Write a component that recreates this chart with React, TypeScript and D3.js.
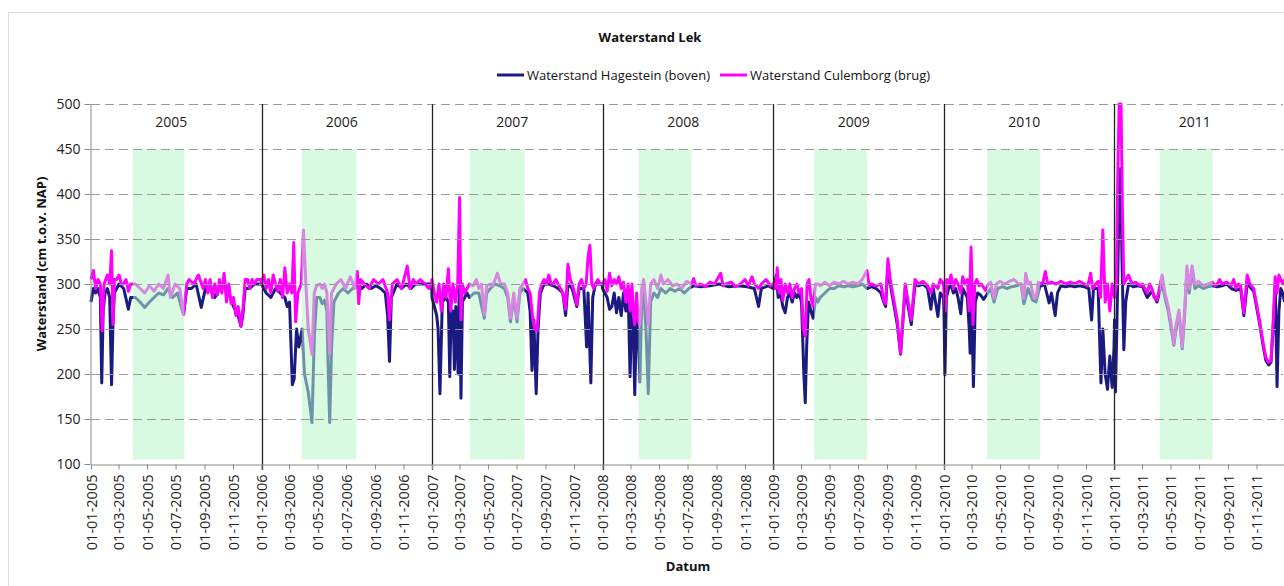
import React, { useEffect, useRef } from "react";
import * as d3 from "d3";

type Pt = [number, number]; // [day of year, cm t.o.v. NAP]

// Waterstand Hagestein (boven)
const hag2005: Pt[] = [[0,280],[5,295],[10,290],[15,295],[20,285],[23,190],[26,270],[30,290],[35,295],[40,285],[44,188],[47,255],[50,290],[60,300],[70,295],[80,272],[85,285],[95,285],[105,280],[115,274],[125,280],[135,285],[145,290],[155,288],[165,295],[175,285],[185,290],[198,266],[205,295],[215,295],[225,300],[236,274],[245,295],[255,295],[265,285],[275,295],[285,300],[295,290],[305,275],[315,265],[321,253],[325,265],[330,295],[340,295],[350,300],[364,300]];
const hag2006: Pt[] = [[0,300],[10,290],[20,285],[30,295],[40,290],[50,285],[55,275],[60,280],[66,188],[70,195],[75,250],[80,230],[87,250],[92,200],[100,180],[108,146],[113,240],[118,285],[125,285],[130,278],[135,282],[140,270],[143,200],[146,146],[150,230],[155,280],[165,290],[175,295],[185,290],[195,295],[205,300],[215,295],[225,300],[235,295],[245,298],[255,295],[265,290],[270,265],[274,214],[278,285],[290,300],[300,295],[310,300],[320,295],[330,300],[340,300],[350,300],[364,300]];
const hag2007: Pt[] = [[0,285],[5,275],[10,265],[13,250],[17,178],[22,280],[30,285],[35,280],[38,197],[41,270],[45,270],[48,205],[51,275],[56,200],[59,330],[62,173],[65,280],[70,285],[75,290],[80,285],[90,290],[100,290],[112,262],[117,290],[125,295],[135,300],[145,298],[155,295],[162,285],[168,258],[175,285],[182,258],[188,290],[195,295],[205,290],[210,270],[214,204],[218,260],[223,178],[227,250],[232,290],[240,300],[250,300],[260,298],[270,295],[280,290],[286,265],[291,300],[300,295],[310,275],[315,295],[325,295],[331,230],[334,290],[340,190],[344,285],[350,300],[364,300]];
const hag2008: Pt[] = [[0,295],[5,290],[10,285],[15,272],[20,275],[25,290],[30,268],[35,285],[40,265],[45,290],[50,270],[55,290],[59,197],[63,280],[66,250],[69,177],[73,270],[77,240],[80,191],[84,280],[88,290],[93,250],[98,178],[103,280],[110,290],[118,285],[125,295],[135,290],[145,295],[155,292],[165,295],[175,290],[185,295],[195,298],[210,297],[230,298],[250,300],[270,297],[290,298],[310,297],[325,295],[334,275],[340,295],[355,298],[365,295]];
const hag2009: Pt[] = [[0,295],[6,310],[10,285],[15,290],[20,275],[25,268],[30,285],[35,290],[40,280],[45,290],[50,285],[55,290],[60,280],[65,200],[68,168],[71,230],[75,280],[80,270],[85,262],[90,285],[95,280],[100,285],[110,290],[120,295],[130,295],[140,298],[150,297],[160,298],[170,297],[180,298],[190,300],[200,295],[210,297],[220,295],[230,290],[236,280],[240,275],[245,320],[250,300],[255,285],[260,270],[265,255],[272,222],[282,295],[290,270],[295,255],[303,300],[310,298],[320,300],[330,295],[337,272],[342,295],[352,264],[357,290],[364,285]];
const hag2010: Pt[] = [[0,270],[2,199],[5,285],[10,295],[15,300],[20,290],[25,295],[30,285],[36,267],[40,295],[45,290],[50,285],[54,250],[56,223],[59,290],[63,186],[67,280],[72,290],[78,288],[85,283],[90,287],[100,295],[107,280],[115,295],[125,297],[135,295],[145,297],[155,298],[165,300],[171,278],[180,295],[190,282],[197,280],[205,297],[215,300],[225,279],[230,290],[238,265],[243,290],[250,298],[260,297],[270,298],[280,297],[290,298],[300,297],[310,295],[316,260],[320,295],[330,295],[336,190],[340,250],[345,200],[350,183],[355,220],[360,185],[364,230]];
const hag2011: Pt[] = [[0,260],[2,180],[5,250],[10,400],[13,428],[16,330],[20,227],[24,280],[30,300],[40,297],[50,298],[60,297],[70,285],[80,292],[91,280],[96,290],[102,300],[108,285],[115,270],[120,255],[127,232],[132,250],[138,268],[145,228],[150,265],[155,315],[160,290],[166,315],[172,295],[180,298],[190,295],[200,297],[210,298],[220,297],[230,298],[240,300],[250,295],[260,293],[270,295],[277,265],[284,300],[290,297],[298,292],[305,272],[312,252],[318,232],[324,215],[330,210],[335,213],[340,255],[344,300],[348,186],[352,270],[356,295],[360,290],[364,280]];

// Waterstand Culemborg (brug)
const cul2005: Pt[] = [[0,305],[5,315],[10,295],[15,305],[20,300],[24,248],[28,300],[35,310],[40,300],[44,337],[47,255],[50,305],[55,305],[60,310],[65,300],[70,300],[75,305],[80,292],[85,300],[95,300],[105,295],[115,290],[125,298],[135,292],[145,300],[155,295],[165,310],[170,285],[180,300],[190,295],[198,266],[205,300],[210,305],[220,300],[230,310],[240,295],[245,305],[250,290],[255,305],[260,285],[265,300],[271,288],[275,305],[280,290],[285,312],[290,280],[295,300],[300,278],[305,285],[310,265],[315,275],[321,253],[325,270],[330,305],[335,305],[340,295],[345,305],[350,300],[355,305],[364,305]];
const cul2006: Pt[] = [[0,300],[5,310],[10,295],[15,305],[20,290],[25,310],[30,300],[35,292],[40,305],[45,285],[50,318],[55,290],[60,300],[65,290],[69,346],[73,258],[78,290],[85,300],[90,360],[95,300],[100,250],[108,222],[113,290],[118,298],[125,300],[130,295],[135,300],[140,290],[146,222],[150,290],[155,295],[160,300],[170,305],[180,295],[190,308],[200,295],[205,314],[208,278],[212,305],[220,300],[230,295],[240,305],[250,300],[260,305],[270,290],[274,260],[280,300],[290,305],[300,295],[312,320],[318,295],[325,305],[330,300],[340,305],[350,300],[358,295],[364,300]];
const cul2007: Pt[] = [[0,305],[5,290],[10,280],[15,300],[20,270],[25,300],[30,285],[35,317],[40,270],[45,300],[50,280],[55,300],[59,396],[62,260],[65,300],[70,290],[75,295],[80,300],[88,298],[95,305],[100,295],[106,300],[112,266],[117,298],[125,300],[130,298],[140,312],[147,300],[155,300],[162,290],[168,262],[175,290],[182,262],[188,295],[195,300],[200,305],[205,295],[210,290],[215,265],[220,250],[225,248],[230,290],[235,300],[240,305],[245,300],[250,310],[255,300],[260,300],[265,305],[270,300],[275,295],[280,290],[286,272],[291,322],[296,305],[300,300],[305,290],[310,277],[315,300],[320,305],[325,295],[330,300],[334,330],[338,343],[342,300],[346,295],[350,300],[355,305],[360,300],[364,300]];
const cul2008: Pt[] = [[0,300],[5,305],[10,292],[15,312],[20,298],[25,305],[30,300],[35,308],[40,295],[45,302],[50,280],[55,300],[59,270],[63,300],[66,265],[69,255],[73,290],[77,258],[80,255],[84,295],[88,305],[93,280],[98,255],[103,300],[110,305],[118,295],[125,310],[130,300],[140,305],[150,298],[160,300],[170,295],[180,303],[190,300],[195,306],[200,298],[210,300],[220,297],[230,302],[240,300],[253,312],[258,298],[265,300],[275,302],[285,297],[295,300],[305,305],[312,298],[320,308],[325,300],[334,295],[340,300],[350,305],[360,298],[365,300]];
const cul2009: Pt[] = [[0,300],[5,295],[8,318],[12,290],[16,305],[20,282],[25,300],[30,290],[35,300],[40,285],[45,295],[50,300],[55,290],[60,295],[64,250],[68,242],[72,300],[76,305],[80,285],[85,275],[90,300],[95,300],[100,298],[110,302],[120,298],[130,302],[140,300],[150,303],[160,300],[170,302],[180,300],[190,305],[200,315],[205,298],[210,300],[220,298],[230,300],[236,282],[240,278],[245,328],[250,305],[255,290],[260,275],[265,260],[272,223],[282,300],[290,275],[295,260],[303,305],[310,300],[320,303],[330,298],[337,290],[342,300],[352,295],[357,305],[364,300]];
const cul2010: Pt[] = [[0,290],[3,270],[6,305],[10,300],[15,310],[20,295],[25,305],[30,300],[36,290],[40,308],[45,300],[50,305],[54,270],[58,341],[62,255],[66,300],[70,305],[75,298],[80,300],[89,293],[95,300],[100,302],[107,284],[112,300],[120,303],[130,300],[140,303],[150,305],[160,300],[165,300],[171,284],[175,312],[180,300],[185,302],[192,285],[197,285],[202,302],[207,300],[212,302],[217,314],[222,300],[230,302],[240,300],[250,303],[260,300],[270,302],[280,300],[290,303],[300,300],[308,298],[314,312],[318,295],[325,300],[330,303],[335,285],[340,360],[345,280],[350,300],[355,270],[360,300],[364,290]];
const cul2011: Pt[] = [[0,285],[4,300],[7,420],[10,500],[14,500],[17,380],[20,300],[25,305],[30,310],[35,303],[40,300],[45,302],[50,300],[55,298],[60,300],[65,295],[70,290],[75,300],[80,295],[85,285],[91,282],[96,295],[102,310],[108,290],[115,275],[120,260],[127,234],[132,255],[138,271],[145,230],[150,270],[155,320],[160,295],[166,320],[172,300],[180,303],[190,298],[200,300],[210,302],[215,298],[220,300],[225,305],[230,300],[240,302],[250,298],[255,305],[260,295],[265,300],[270,298],[277,268],[284,310],[290,300],[298,295],[305,275],[312,255],[318,235],[324,218],[330,213],[335,215],[340,260],[344,308],[348,290],[352,310],[356,305],[360,300],[364,305]];

const years = [2005, 2006, 2007, 2008, 2009, 2010, 2011];
const hagestein = [hag2005, hag2006, hag2007, hag2008, hag2009, hag2010, hag2011];
const culemborg = [cul2005, cul2006, cul2007, cul2008, cul2009, cul2010, cul2011];

// green periods (start, end)
const greenPeriods: [string, string][] = [
  ["2005-04-01", "2005-07-20"],
  ["2006-03-28", "2006-07-23"],
  ["2007-03-23", "2007-07-18"],
  ["2008-03-18", "2008-07-09"],
  ["2009-03-29", "2009-07-20"],
  ["2010-04-03", "2010-07-26"],
  ["2011-04-08", "2011-07-30"],
];
const greenRange = [105, 450];
const yTicks = [100, 150, 200, 250, 300, 350, 400, 450, 500];

const W = 1284;
const H = 586;
const FONT = "'Open Sans', sans-serif";

type Row = { date: Date; value: number };

const toRows = (series: Pt[][]): Row[] =>
  series.flatMap((pts, i) =>
    pts.map(([day, value]) => ({ date: d3.timeDay.offset(new Date(years[i], 0, 1), day), value }))
  );

const parse = d3.timeParse("%Y-%m-%d");

const App = () => {
  const ref = useRef<SVGSVGElement | null>(null);

  useEffect(() => {
    const svg = d3.select(ref.current);
    svg.selectAll("*").remove();

    const start = new Date(2005, 0, 1);
    const end = new Date(2012, 0, 1);
    const x = d3.scaleTime().domain([start, end]).range([91, 1285]);
    const y = d3.scaleLinear().domain([100, 500]).range([464, 104]);

    // outer frame
    svg.append("rect")
      .attr("x", 8.5).attr("y", 12.5)
      .attr("width", W).attr("height", H)
      .attr("fill", "white").attr("stroke", "#dcdcdc");

    const line = d3.line<Row>()
      .x((d) => x(d.date))
      .y((d) => y(d.value));

    svg.append("path")
      .datum(toRows(hagestein))
      .attr("fill", "none")
      .attr("stroke", "#1a1a80")
      .attr("stroke-width", 3)
      .attr("stroke-linejoin", "round")
      .attr("d", line);

    svg.append("path")
      .datum(toRows(culemborg))
      .attr("fill", "none")
      .attr("stroke", "#ff00ff")
      .attr("stroke-width", 3)
      .attr("stroke-linejoin", "round")
      .attr("d", line);

    // green periods, laid over the lines
    svg.append("g")
      .selectAll("rect")
      .data(greenPeriods)
      .join("rect")
      .attr("x", (d) => x(parse(d[0])!))
      .attr("width", (d) => x(parse(d[1])!) - x(parse(d[0])!))
      .attr("y", y(greenRange[1]))
      .attr("height", y(greenRange[0]) - y(greenRange[1]))
      .attr("fill", "rgb(182,246,200)")
      .attr("fill-opacity", 0.55);

    // dashed gridlines
    svg.append("g")
      .selectAll("line")
      .data(yTicks.filter((t) => t > 100))
      .join("line")
      .attr("x1", 91).attr("x2", 1283)
      .attr("y1", (d) => y(d) + 0.5).attr("y2", (d) => y(d) + 0.5)
      .attr("stroke", "#9a9a9a")
      .attr("stroke-dasharray", "9,5");

    // year separators
    svg.append("g")
      .selectAll("line")
      .data(years.slice(1))
      .join("line")
      .attr("x1", (d) => Math.round(x(new Date(d, 0, 1))) + 0.5)
      .attr("x2", (d) => Math.round(x(new Date(d, 0, 1))) + 0.5)
      .attr("y1", y(500))
      .attr("y2", y(100) + 6)
      .attr("stroke", "#222")
      .attr("stroke-width", 1.3);

    // year labels
    svg.append("g")
      .selectAll("text")
      .data(years)
      .join("text")
      .attr("x", (d) => x(new Date(d, 5, 22)))
      .attr("y", 127)
      .attr("text-anchor", "middle")
      .attr("font-family", FONT)
      .attr("font-size", 14)
      .attr("fill", "#222")
      .text((d) => String(d));

    // axes
    const monthTicks = d3.timeMonth.every(2)!.range(start, end);
    const xAxis = svg.append("g")
      .attr("transform", `translate(0,${y(100) + 0.5})`)
      .call(
        d3.axisBottom(x)
          .tickValues(monthTicks)
          .tickFormat((d) => d3.timeFormat("%d-%m-%Y")(d as Date))
          .tickSize(5)
          .tickSizeOuter(0)
      );
    xAxis.select(".domain").attr("stroke", "#888");
    xAxis.selectAll(".tick line").attr("stroke", "#888");
    xAxis.selectAll(".tick text")
      .attr("transform", "rotate(-90)")
      .attr("text-anchor", "end")
      .attr("x", -10)
      .attr("y", 0)
      .attr("dy", "0.36em")
      .attr("font-family", FONT)
      .attr("font-size", 14.5)
      .attr("fill", "#222");

    const yAxis = svg.append("g")
      .attr("transform", "translate(90.5,0)")
      .call(d3.axisLeft(y).tickValues(yTicks).tickSize(6).tickSizeOuter(0));
    yAxis.select(".domain").attr("stroke", "#888");
    yAxis.selectAll(".tick line").attr("stroke", "#888");
    yAxis.selectAll(".tick text")
      .attr("x", -10)
      .attr("font-family", FONT)
      .attr("font-size", 14)
      .attr("fill", "#222");

    // titles
    svg.append("text")
      .attr("x", 650).attr("y", 42)
      .attr("text-anchor", "middle")
      .attr("font-family", FONT)
      .attr("font-weight", "bold")
      .attr("font-size", 13)
      .attr("fill", "#111")
      .text("Waterstand Lek");

    svg.append("text")
      .attr("x", 688).attr("y", 571)
      .attr("text-anchor", "middle")
      .attr("font-family", FONT)
      .attr("font-weight", "bold")
      .attr("font-size", 13)
      .attr("fill", "#111")
      .text("Datum");

    svg.append("text")
      .attr("transform", "translate(46,264) rotate(-90)")
      .attr("text-anchor", "middle")
      .attr("font-family", FONT)
      .attr("font-weight", "bold")
      .attr("font-size", 13)
      .attr("fill", "#111")
      .text("Waterstand (cm t.o.v. NAP)");

    // legend
    const legend = [
      { label: "Waterstand Hagestein (boven)", color: "#1a1a80", x: 497 },
      { label: "Waterstand Culemborg (brug)", color: "#ff00ff", x: 720 },
    ];
    const lg = svg.append("g").selectAll("g").data(legend).join("g")
      .attr("transform", (d) => `translate(${d.x},75)`);
    lg.append("line")
      .attr("x1", 0).attr("x2", 27)
      .attr("stroke", (d) => d.color)
      .attr("stroke-width", 3);
    lg.append("text")
      .attr("x", 30).attr("y", 5)
      .attr("font-family", FONT)
      .attr("font-size", 13)
      .attr("fill", "#111")
      .text((d) => d.label);
  }, []);

  return (
    <svg
      ref={ref}
      width={W}
      height={H}
      style={{ position: "absolute", left: 0, top: 0, background: "white" }}
    />
  );
};

export default App;
